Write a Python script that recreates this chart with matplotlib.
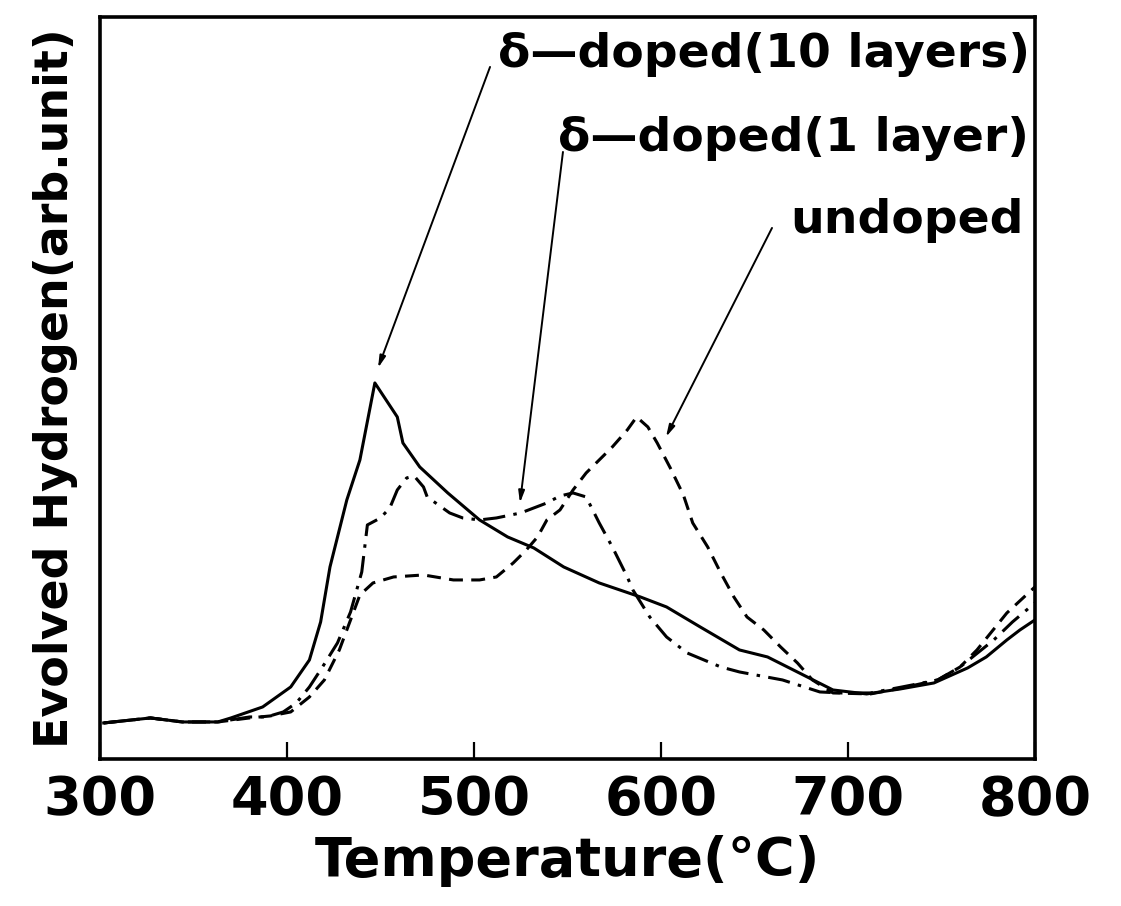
import numpy as np
import matplotlib as mpl
import matplotlib.pyplot as plt

# temperature (deg C) and evolved hydrogen (arb. unit)
t_10layers = np.array([302, 327, 344, 363, 370, 387, 402, 412, 418, 423, 432, 439,
                       447, 459, 462, 471, 486, 503, 518, 532, 548, 567, 589, 603,
                       621, 642, 657, 674, 692, 710, 728, 746, 764, 774, 785, 792,
                       800])
h_10layers = np.array([3.4, 3.9, 3.5, 3.5, 3.9, 5.0, 7.0, 9.7, 13.5, 19.0, 25.7, 29.7,
                       37.4, 34.0, 31.4, 29.0, 26.4, 23.7, 22.0, 20.9, 19.0, 17.4, 16.0,
                       15.0, 13.0, 10.7, 10.0, 8.4, 6.7, 6.3, 6.8, 7.4, 8.9, 10.0, 11.7,
                       12.7, 13.7])

t_1layer = np.array([302, 327, 344, 363, 380, 389, 398, 405, 412, 419, 427, 434,
                     440, 443, 450, 455, 459, 464, 468, 473, 475, 481, 487, 494,
                     503, 512, 525, 539, 546, 553, 560, 567, 574, 582, 585, 594,
                     603, 614, 632, 642, 665, 685, 696, 712, 729, 748, 760, 778,
                     788, 800])
h_1layer = np.array([3.4, 3.9, 3.5, 3.5, 4.0, 4.0, 4.5, 5.4, 7.0, 9.0, 11.4, 14.5,
                     18.5, 23.2, 23.9, 24.9, 26.7, 27.9, 28.1, 27.0, 26.0, 25.2, 24.4,
                     23.9, 23.7, 23.9, 24.4, 25.4, 26.1, 26.4, 26.0, 23.4, 21.0, 18.0,
                     16.7, 14.0, 12.0, 10.4, 9.0, 8.5, 7.7, 6.5, 6.4, 6.4, 7.0, 7.7,
                     9.0, 11.7, 13.5, 15.4])

t_undoped = np.array([302, 327, 344, 363, 380, 391, 402, 412, 420, 428, 434, 439,
                      446, 457, 473, 489, 503, 512, 521, 528, 534, 539, 546, 553,
                      560, 567, 574, 582, 587, 593, 598, 605, 612, 617, 625, 632,
                      639, 646, 655, 664, 673, 681, 692, 712, 729, 748, 760, 769,
                      785, 800])
h_undoped = np.array([3.4, 3.9, 3.5, 3.5, 3.9, 4.1, 4.5, 6.0, 7.7, 10.7, 13.7, 16.2,
                      17.4, 18.0, 18.2, 17.7, 17.7, 18.0, 19.4, 20.7, 22.0, 23.7, 24.7,
                      26.7, 28.4, 29.7, 31.0, 32.7, 34.0, 33.0, 31.4, 28.9, 26.2, 23.4,
                      21.0, 18.4, 16.0, 14.0, 12.7, 11.0, 9.4, 7.7, 6.4, 6.3, 6.9, 7.7,
                      9.0, 10.7, 14.4, 17.0])

x_ticks = [300, 400, 500, 600, 700, 800]
x_tick_labels = ['300', '400', '500', '600', '700', '800']

# labels: text, arrow start (data), arrow tip (data)
labels = ['δ—doped(10 layers)', 'δ—doped(1 layer)', 'undoped']
arrow_start = [(508.6, 69.0), (547.6, 60.5), (659.4, 52.9)]
arrow_tip = [(448.7, 38.9), (524.6, 25.4), (602.7, 32.0)]

mpl.rcParams['lines.scale_dashes'] = False

fig = plt.figure(figsize=(11.21, 9.06), dpi=100)
ax = fig.add_axes([0.0892, 0.1623, 0.834, 0.819])

ax.plot(t_10layers, h_10layers, color='black', lw=2.2, ls='-')
ax.plot(t_1layer, h_1layer, color='black', lw=2.2, ls=(0, (16, 6, 2.5, 6)))
ax.plot(t_undoped, h_undoped, color='black', lw=2.2, ls=(0, (10, 6)))

ax.set_xlim(300, 800)
ax.set_ylim(-0.2, 74.0)

ax.set_xticks(x_ticks)
ax.set_xticklabels(x_tick_labels, fontsize=39, fontweight='bold')
ax.set_yticks([])
ax.tick_params(axis='x', direction='in', length=12, width=1.6, pad=11)

for sp in ax.spines.values():
    sp.set_linewidth(2.6)

ax.set_xlabel('Temperature(°C)', fontsize=39, fontweight='bold', labelpad=6)
ax.set_ylabel('Evolved Hydrogen(arb.unit)', fontsize=33, fontweight='bold',
              labelpad=16)

text_pos = [(0.426, 0.950), (0.490, 0.836), (0.738, 0.726)]
for lab, (tx, ty) in zip(labels, text_pos):
    ax.text(tx, ty, lab, transform=ax.transAxes, fontsize=34, fontweight='bold',
            ha='left', va='center')

for st, tp in zip(arrow_start, arrow_tip):
    ax.annotate('', xy=tp, xytext=st,
                arrowprops=dict(arrowstyle='-|>,head_length=0.7,head_width=0.18',
                                color='black', lw=1.4, shrinkA=0, shrinkB=0))

fig.savefig('out.png', dpi=100, facecolor='white')
plt.close(fig)
